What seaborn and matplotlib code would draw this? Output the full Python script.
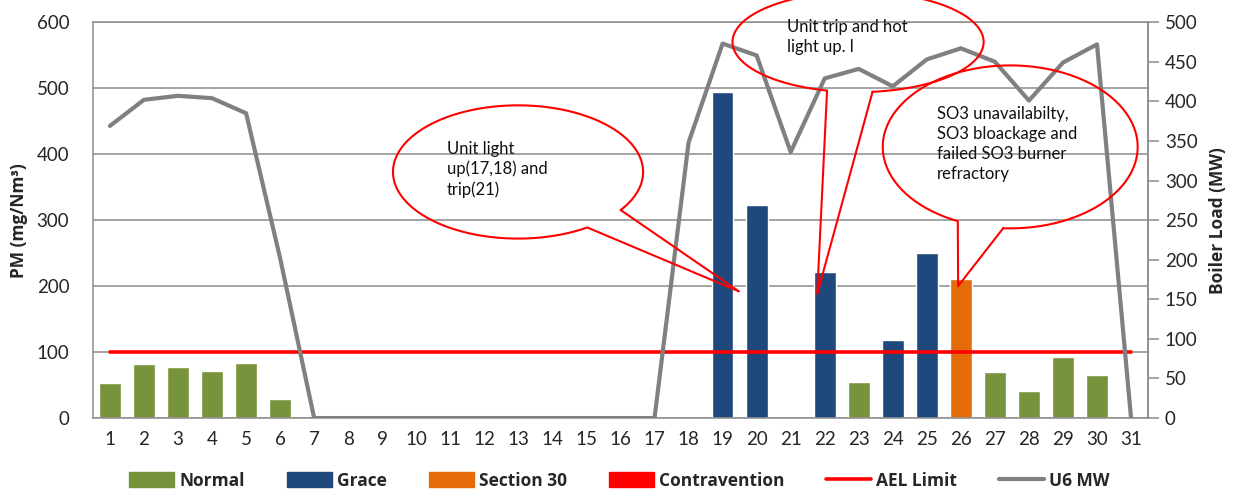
import numpy as np
import pandas as pd
import matplotlib
matplotlib.use('Agg')
import matplotlib.pyplot as plt
from matplotlib.patches import Patch
from matplotlib.lines import Line2D
import seaborn as sns

sns.set_style('white')
plt.rcParams['font.family'] = ['Lato', 'DejaVu Sans']

# --- data -------------------------------------------------------------
days = [str(d) for d in range(1, 32)]

# PM per day (mg/Nm3); None = no bar
pm_values = [53, 82, 77, 71, 83, 29, None, None, None, None, None, None,
             None, None, None, None, None, None, 494, 323, None, 222, 54,
             118, 250, 211, 70, 41, 93, 65, None]
pm_status = ['Normal'] * 6 + [None] * 12 + ['Grace', 'Grace', None, 'Grace',
             'Normal', 'Grace', 'Grace', 'Section 30', 'Normal', 'Normal',
             'Normal', 'Normal', None]

# boiler load U6 (MW)
u6_mw = [369, 402, 407, 404, 385, 202, 0, 0, 0, 0, 0, 0, 0, 0, 0, 0, 0, 348,
         473, 458, 336, 429, 441, 419, 453, 467, 450, 401, 449, 472, 0]

ael_limit = 100

status_colors = {'Normal': '#77933C', 'Grace': '#1F497D',
                 'Section 30': '#E46C0A', 'Contravention': '#FF0000'}

callouts = [
    # text, ellipse centre (day idx, PM), width, height, base points, tip
    ('Unit light\nup(17,18) and\ntrip(21)', (11.99, 373), 7.35, 202,
     [(14.02, 289), (15.02, 315)], (18.48, 192), (9.9, 377)),
    ('Unit trip and hot\nlight up. l', (21.98, 570), 7.38, 152,
     [(21.04, 494), (22.42, 492)], (20.78, 188), (19.9, 577)),
    ('SO3 unavailabilty,\nSO3 bloackage and\nfailed SO3 burner\nrefractory',
     (26.45, 411), 7.49, 247, [(24.89, 297), (26.24, 286)], (24.92, 200),
     (24.3, 415)),
]

bars = pd.DataFrame({'day': days, 'pm': pm_values, 'status': pm_status}).dropna()

bold = {'family': ['Open Sans', 'DejaVu Sans'], 'weight': 'bold'}

# --- plot -------------------------------------------------------------
fig = plt.figure(figsize=(12.39, 4.93), dpi=100)
ax = fig.add_axes([0.075, 0.152, 0.8516, 0.803])

sns.barplot(data=bars, x='day', y='pm', hue='status', order=days,
            palette=status_colors, dodge=False, width=0.64, ax=ax,
            legend=False, saturation=1)
sns.lineplot(x=np.arange(len(days)), y=[ael_limit] * len(days), ax=ax,
             color='#FF0000', lw=2.6, solid_capstyle='round', zorder=3)

ax.set_xlim(-0.5, 30.5)
ax.set_ylim(0, 600)
ax.set_yticks(range(0, 601, 100))
ax.yaxis.grid(True, color='#8C8C8C', lw=1.1)
ax.set_axisbelow(True)
for s in ax.spines.values():
    s.set_color('#8C8C8C')
    s.set_linewidth(1.1)
ax.tick_params(axis='y', length=0, pad=17, labelsize=13.5)
ax.tick_params(axis='x', length=0, pad=9, labelsize=13.5)
ax.set_xlabel('')
ax.set_ylabel('PM (mg/Nm³)', fontsize=12.5, labelpad=6, **bold)

ax2 = ax.twinx()
sns.lineplot(x=np.arange(len(days)), y=u6_mw, ax=ax2, color='#808080', lw=3)
ax2.set_ylim(0, 500)
ax2.set_yticks(range(0, 501, 50))
ax2.spines['right'].set_color('#8C8C8C')
ax2.spines['right'].set_linewidth(1.1)
for side in ['left', 'top', 'bottom']:
    ax2.spines[side].set_visible(False)
ax2.tick_params(axis='y', length=8, width=1.1, color='#8C8C8C', pad=4,
                labelsize=13.5, direction='out', right=True)
ax2.set_ylabel('Boiler Load (MW)', fontsize=12.5, labelpad=8, **bold)

# callout bubbles, drawn in PM coordinates
for text, (cx, cy), w, h, base, tip, tpos in callouts:
    t = [np.arctan2((by - cy) / (h / 2), (bx - cx) / (w / 2)) for bx, by in base]
    d = (t[1] - t[0]) % (2 * np.pi)
    if d > np.pi:
        t = [t[1], t[0]]
        d = 2 * np.pi - d
    ts = t[1] + np.linspace(0, 2 * np.pi - d, 200)
    xs = list(cx + w / 2 * np.cos(ts)) + [tip[0], cx + w / 2 * np.cos(ts[0])]
    ys = list(cy + h / 2 * np.sin(ts)) + [tip[1], cy + h / 2 * np.sin(ts[0])]
    ax2.plot(xs, ys, color='#FF0000', lw=1.5, transform=ax.transData,
             clip_on=False, zorder=5)
    ax2.text(tpos[0], tpos[1], text, transform=ax.transData, fontsize=12,
             va='center', ha='left', linespacing=1.3, color='#111111',
             zorder=6)

handles = [Patch(color=status_colors[k]) for k in status_colors]
handles += [Line2D([], [], color='#FF0000', lw=2.6),
            Line2D([], [], color='#808080', lw=3)]
labels = list(status_colors) + ['AEL Limit', 'U6 MW']
fig.legend(handles, labels, loc='center', bbox_to_anchor=(0.5, 0.025),
           ncol=6, frameon=False, prop={**bold, 'size': 12.5},
           handlelength=2.6, handleheight=0.9, handletextpad=0.3,
           columnspacing=2.4)

fig.savefig('out.png', dpi=100)
